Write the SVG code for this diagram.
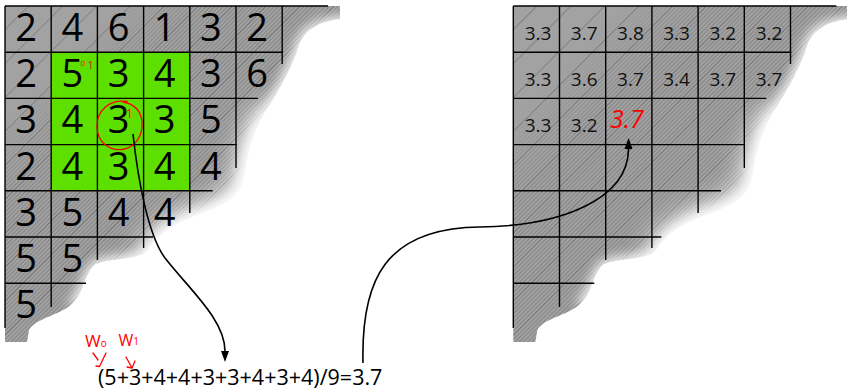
<svg xmlns="http://www.w3.org/2000/svg" xmlns:xlink="http://www.w3.org/1999/xlink" width="847" height="390" viewBox="0 0 847 390">
<style>
.gl line{stroke:#000;stroke-width:1.4}
.big{font-family:"Open Sans","DejaVu Sans",sans-serif;font-size:38px;fill:#000;text-anchor:middle}
.small{font-family:"Open Sans","DejaVu Sans",sans-serif;font-size:19px;fill:#111;text-anchor:middle}
.formula{font-family:"Open Sans","DejaVu Sans",sans-serif;font-size:21.5px;fill:#000}
.red{font-family:"Open Sans","DejaVu Sans",sans-serif;fill:#f00}
.conn{fill:none;stroke:#000;stroke-width:1.6}
.ink{fill:none;stroke:#f00;stroke-width:1.3;stroke-linecap:round;stroke-linejoin:round}
.fade{fill:none;stroke:#fff;stroke-linecap:round}
</style>
<defs>
<pattern id="hatch" width="3" height="3" patternUnits="userSpaceOnUse" patternTransform="rotate(45)"><line x1="0.5" y1="0" x2="0.5" y2="3" stroke="#5a5a5a" stroke-width="1"/></pattern>
<pattern id="sparse" width="24" height="24" patternUnits="userSpaceOnUse" patternTransform="rotate(45)"><line x1="0" y1="0" x2="0" y2="24" stroke="#555" stroke-width="0.8"/></pattern>
<linearGradient id="hm" gradientUnits="userSpaceOnUse" x1="0" y1="0" x2="170" y2="170"><stop offset="0.35" stop-color="#000"/><stop offset="0.6" stop-color="#fff"/></linearGradient>
<mask id="hmask" maskUnits="userSpaceOnUse" x="0" y="0" width="360" height="360"><rect width="360" height="360" fill="url(#hm)"/></mask>
<filter id="soft" x="-30%" y="-30%" width="160%" height="160%"><feGaussianBlur stdDeviation="6"/></filter>
<filter id="softer" x="-30%" y="-30%" width="160%" height="160%"><feGaussianBlur stdDeviation="13"/></filter>
<path id="shape" d="M5,6 H340 V19 C322,21 305,28 299,45 C292,68 278,92 265,112 C252,134 247,155 244,178 C240,198 220,207 200,214 C178,222 158,232 148,250 C140,260 110,258 96,264 C84,272 86,290 72,304 C58,316 36,318 29,330 L27,342 H5 Z"/>
<g id="sheet">
<use xlink:href="#shape" fill="#a2a2a2"/>
<use xlink:href="#shape" fill="url(#sparse)"/>
<use xlink:href="#shape" fill="url(#hatch)" mask="url(#hmask)" opacity="0.4"/>
<path class="fade" stroke-width="12" filter="url(#soft)" d="M350,22 C322,23 307,30 301,46 C294,69 280,93 267,113 C254,135 249,156 246,179 C242,200 222,209 201,216 C179,224 160,234 150,252 C142,262 112,260 98,266 C88,273 88,290 76,303"/>
<path class="fade" stroke-width="30" filter="url(#softer)" d="M266,122 C256,142 252,160 249,182 C245,203 224,213 204,220 C182,228 164,238 154,255"/>
</g>
<g id="gridlines" class="gl">
<line x1="5" y1="6" x2="328" y2="6"/>
<line x1="5" y1="52.2" x2="283" y2="52.2"/>
<line x1="5" y1="98.4" x2="258" y2="98.4"/>
<line x1="5" y1="144.6" x2="236.7" y2="144.6"/>
<line x1="5" y1="190.8" x2="212.7" y2="190.8"/>
<line x1="5" y1="237" x2="153" y2="237"/>
<line x1="5" y1="283.2" x2="86" y2="283.2"/>
<line x1="5" y1="6" x2="5" y2="328"/>
<line x1="51.2" y1="6" x2="51.2" y2="307"/>
<line x1="97.4" y1="6" x2="97.4" y2="260"/>
<line x1="143.6" y1="6" x2="143.6" y2="248"/>
<line x1="189.8" y1="6" x2="189.8" y2="213"/>
<line x1="236" y1="6" x2="236" y2="168"/>
<line x1="282.2" y1="6" x2="282.2" y2="64"/>
</g>
<marker id="ah" markerWidth="11" markerHeight="8" viewBox="0 0 11 8" refX="0" refY="4" orient="auto" markerUnits="userSpaceOnUse"><path d="M0,0 L11,4 L0,8 Z" fill="#000"/></marker>
</defs>

<g id="left-grid">
<use xlink:href="#sheet"/>
<rect x="51.2" y="52.2" width="138.6" height="138.6" fill="#5de000"/>
<use xlink:href="#gridlines"/>
<g class="big">
<text x="26.1" y="41">2</text><text x="72.3" y="41">4</text><text x="118.5" y="41">6</text><text x="164.7" y="41">1</text><text x="210.9" y="41">3</text><text x="257.1" y="41">2</text>
<text x="26.1" y="87.2">2</text><text x="72.3" y="87.2">5</text><text x="118.5" y="87.2">3</text><text x="164.7" y="87.2">4</text><text x="210.9" y="87.2">3</text><text x="257.1" y="87.2">6</text>
<text x="26.1" y="133.4">3</text><text x="72.3" y="133.4">4</text><text x="118.5" y="133.4">3</text><text x="164.7" y="133.4">3</text><text x="210.9" y="133.4">5</text>
<text x="26.1" y="179.6">2</text><text x="72.3" y="179.6">4</text><text x="118.5" y="179.6">3</text><text x="164.7" y="179.6">4</text><text x="210.9" y="179.6">4</text>
<text x="26.1" y="225.8">3</text><text x="72.3" y="225.8">5</text><text x="118.5" y="225.8">4</text><text x="164.7" y="225.8">4</text>
<text x="26.1" y="272">5</text><text x="72.3" y="272">5</text>
<text x="26.1" y="318.2">5</text>
</g>
</g>

<g id="right-grid">
<g transform="translate(508.3,0)">
<use xlink:href="#sheet"/>
<use xlink:href="#gridlines"/>
</g>
<g class="small">
<text x="538" y="40">3.3</text><text x="584.2" y="40">3.7</text><text x="630.4" y="40">3.8</text><text x="676.6" y="40">3.3</text><text x="722.8" y="40">3.2</text><text x="769" y="40">3.2</text>
<text x="538" y="86.2">3.3</text><text x="584.2" y="86.2">3.6</text><text x="630.4" y="86.2">3.7</text><text x="676.6" y="86.2">3.4</text><text x="722.8" y="86.2">3.7</text><text x="769" y="86.2">3.7</text>
<text x="538" y="132.4">3.3</text><text x="584.2" y="132.4">3.2</text>
</g>
</g>

<g id="formula">
<text class="formula" x="98" y="384.5">(5+3+4+4+3+3+4+3+4)/9=3.7</text>
</g>

<g id="annotations">
<path class="ink" d="M127,101.5 C110,99 96.5,110 97,127 C97.5,143 110,151 122,149.5 C136,147.5 143,135 142,122 C141,111 134,104 123,102"/>
<text class="red" x="80.5" y="66" font-size="8">0</text>
<text class="red" x="87.5" y="69" font-size="11">1</text>
<text class="red" x="126" y="118" font-size="12">1</text>
<text class="red" x="610" y="128" font-size="25" font-style="italic">3.7</text>
<text class="red" x="85" y="347" font-size="17">W<tspan font-size="10">o</tspan></text>
<text class="red" x="118.5" y="346" font-size="16">W<tspan font-size="10" dy="-1">1</tspan></text>
<path class="ink" d="M93,353 L98,360 M106,353 L99.5,366.5 M96,366 L99.5,366.5"/>
<path class="ink" d="M126,357 L132,368 L135,361 M132,368 L127,367"/>
</g>

<g id="connectors">
<path class="conn" d="M133,134 C138,180 148,235 165,258 C190,290 225,320 225,351" marker-end="url(#ah)"/>
<path class="conn" d="M363,363 C361,280 385,228 480,227 C560,226 628,200 628.5,149" marker-end="url(#ah)"/>
</g>
</svg>
